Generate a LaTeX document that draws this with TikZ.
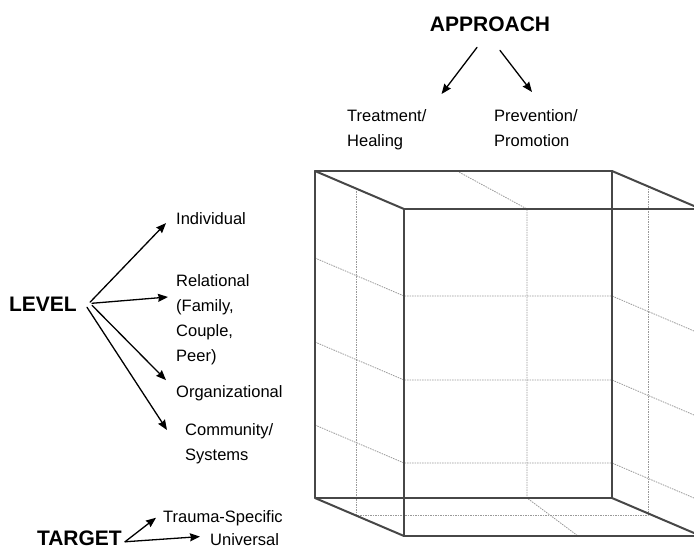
\documentclass[tikz,border=0pt]{standalone}
\usepackage{fontspec}
\setmainfont{Liberation Sans}
\usetikzlibrary{arrows.meta}
\begin{document}
\begin{tikzpicture}[x=1pt, y=-1pt, line join=round, line cap=round, >={Stealth[length=10pt,width=8pt,inset=1pt]},
	font=\fontsize{16.5}{25}\selectfont,
	head/.style={font=\fontsize{21}{25}\selectfont\bfseries, inner sep=0pt},
	lbl/.style={align=left, inner sep=0pt},
	arr/.style={->, line width=1.3pt},
	edge/.style={line width=2pt, black!72},
	grid/.style={line width=0.8pt, black!40, dash pattern=on 1.5pt off 1pt, line cap=butt}]
	\useasboundingbox (0,0) rectangle (694,548);
	\def\dx{89} \def\dy{38}
	% cube
	\foreach \y in {296,380,463}
	\draw[grid] (315,\y-\dy) -- (404,\y) -- (612,\y) -- (612+\dx,\y+\dy);
	\draw[grid] (356,189) -- (356,515) -- (648,515) -- (648,187);
	\draw[grid] (457,171) -- (527,209) -- (527,498) -- (578,536);
	\draw[edge] (315,171) rectangle (612,498);
	\draw[edge] (315+\dx,171+\dy) rectangle (612+\dx,498+\dy);
	\foreach \x/\y in {315/171,612/171,315/498,612/498}
	\draw[edge] (\x,\y) -- ++(\dx,\dy);
	% labels
	\node[head, anchor=base] (appr) at (490,32) {APPROACH};
	\node[lbl, anchor=north west] (treat) at (347,109) {Treatment/\\Healing};
	\node[lbl, anchor=north west] (prev) at (494,109) {Prevention/\\Promotion};
	\node[head, anchor=base east] (lvl) at (77,312) {LEVEL};
	\node[lbl, anchor=base west] (indiv) at (176,225) {Individual};
	\node[lbl, anchor=north west] (relat) at (176,274) {Relational\\(Family,\\Couple,\\Peer)};
	\node[lbl, anchor=base west] (organ) at (176,397) {Organizational};
	\node[lbl, anchor=north west] (commun) at (185,423) {Community/\\Systems};
	\node[head, anchor=base east] (targ) at (122,545.5) {TARGET};
	\node[lbl, anchor=base west] (trauma) at (163,522) {Trauma-Specific};
	\node[lbl, anchor=base west] (univ) at (210,545.5) {Universal};
	% arrows
	\draw[arr] ([xshift=-13pt,yshift=-15pt]appr.south) -- ([xshift=15pt,yshift=15pt]treat.north east);
	\draw[arr] ([xshift=10pt,yshift=-18pt]appr.south) -- ([xshift=38pt,yshift=17pt]prev.north west);
	\draw[arr] ([xshift=13pt,yshift=2.5pt]lvl.east) -- ([xshift=-10pt,yshift=-4pt]indiv.west);
	\draw[arr] ([xshift=15pt,yshift=1.5pt]lvl.east) -- ([xshift=-8pt,yshift=-23pt]relat.north west);
	\draw[arr] ([xshift=15pt,yshift=-0.5pt]lvl.east) -- ([xshift=-10pt,yshift=12.6pt]organ.west);
	\draw[arr] ([xshift=10pt,yshift=-2.5pt]lvl.east) -- ([xshift=-18pt,yshift=-7pt]commun.north west);
	\draw[arr] ([xshift=3pt,yshift=-3.5pt]targ.east) -- ([xshift=-7pt]trauma.west);
	\draw[arr] ([xshift=3pt,yshift=-3.5pt]targ.east) -- ([xshift=-10pt,yshift=3pt]univ.west);
\end{tikzpicture}
\end{document}
